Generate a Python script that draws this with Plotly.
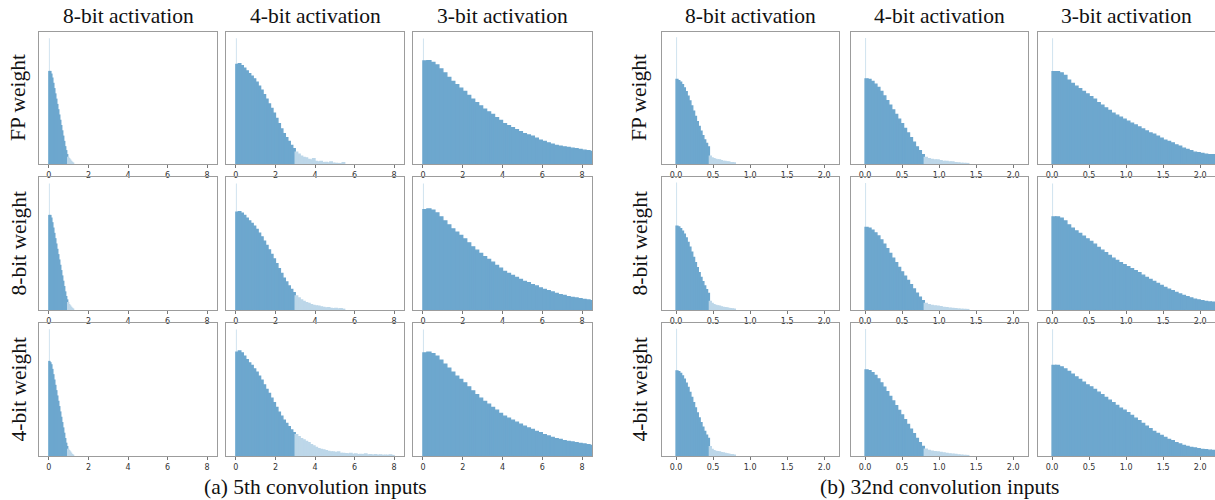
import plotly.graph_objects as go

# ---------------- data ----------------
weight_rows = ["FP weight", "8-bit weight", "4-bit weight"]
act_cols = ["8-bit activation", "4-bit activation", "3-bit activation"]
captions = ["(a) 5th convolution inputs", "(b) 32nd convolution inputs"]

conv5_tickvals = [0, 2, 4, 6, 8]
conv5_ticktext = ["0", "2", "4", "6", "8"]
conv32_tickvals = [0, 0.5, 1.0, 1.5, 2.0]
conv32_ticktext = ["0.0", "0.5", "1.0", "1.5", "2.0"]

# histogram bin widths (per activation column)
conv5_bin = [0.05, 0.125, 0.2]
conv32_bin = [0.025, 0.04, 0.05]

# height of the (very narrow) bin at exactly zero, fraction of axis height
conv5_zero_spike = [[0.952, 0.953, 0.950], [0.952, 0.952, 0.951], [0.953, 0.952, 0.951]]
conv32_zero_spike = [[0.960, 0.955, 0.952], [0.958, 0.955, 0.952], [0.957, 0.955, 0.953]]

# ---- 5th convolution inputs (normalised bin heights) ----
conv5_fp_a8 = [0.70, 0.70, 0.68, 0.65, 0.61, 0.57, 0.53, 0.49, 0.45, 0.41, 0.37, 0.33, 0.29,
               0.25, 0.21, 0.17, 0.13, 0.10, 0.07, 0.05, 0.04, 0.03, 0.02, 0.012, 0.006]
conv5_w8_a8 = [0.71, 0.71, 0.69, 0.655, 0.615, 0.575, 0.535, 0.495, 0.455, 0.415, 0.375, 0.335,
               0.295, 0.255, 0.215, 0.175, 0.135, 0.10, 0.075, 0.055, 0.04, 0.03, 0.02, 0.012, 0.006]
conv5_w4_a8 = [0.71, 0.70, 0.685, 0.65, 0.61, 0.57, 0.53, 0.49, 0.45, 0.41, 0.37, 0.33, 0.29,
               0.25, 0.21, 0.17, 0.13, 0.095, 0.07, 0.05, 0.04, 0.03, 0.02, 0.01, 0.005]

conv5_fp_a4 = [0.755, 0.76, 0.745, 0.725, 0.705, 0.685, 0.665, 0.645, 0.62, 0.59, 0.56, 0.525,
               0.49, 0.455, 0.42, 0.385, 0.345, 0.305, 0.265, 0.23, 0.20, 0.17, 0.14, 0.115,
               0.09, 0.075, 0.06, 0.05, 0.045, 0.035, 0.03, 0.04, 0.02, 0.015, 0.02, 0.01,
               0.012, 0.008, 0.015, 0.006, 0.004, 0.003, 0.002, 0.01]
conv5_w8_a4 = [0.735, 0.74, 0.728, 0.71, 0.69, 0.67, 0.65, 0.63, 0.605, 0.578, 0.55, 0.518,
               0.485, 0.452, 0.418, 0.384, 0.348, 0.31, 0.275, 0.24, 0.21, 0.18, 0.155, 0.13,
               0.105, 0.09, 0.075, 0.065, 0.055, 0.05, 0.04, 0.035, 0.03, 0.028, 0.022, 0.02,
               0.015, 0.018, 0.012, 0.01, 0.012, 0.008, 0.01, 0.005]
conv5_w4_a4 = [0.78, 0.79, 0.775, 0.75, 0.725, 0.70, 0.68, 0.655, 0.63, 0.60, 0.57, 0.535,
               0.50, 0.47, 0.435, 0.40, 0.365, 0.33, 0.30, 0.27, 0.245, 0.22, 0.195, 0.175,
               0.16, 0.145, 0.13, 0.12, 0.11, 0.10, 0.085, 0.075, 0.065, 0.055, 0.05, 0.045,
               0.04, 0.035, 0.03, 0.03, 0.025, 0.03, 0.02, 0.02, 0.018, 0.015, 0.02, 0.012,
               0.015, 0.01, 0.012, 0.01, 0.015, 0.008, 0.01, 0.006, 0.01, 0.005, 0.008, 0.004,
               0.006, 0.004, 0.008, 0.003]

conv5_fp_a3 = [0.78, 0.782, 0.77, 0.75, 0.72, 0.69, 0.655, 0.625, 0.60, 0.575, 0.55, 0.52,
               0.49, 0.465, 0.44, 0.415, 0.395, 0.375, 0.35, 0.33, 0.305, 0.29, 0.275, 0.26,
               0.245, 0.23, 0.22, 0.21, 0.195, 0.18, 0.17, 0.16, 0.15, 0.14, 0.135, 0.13,
               0.125, 0.12, 0.115, 0.11, 0.105, 0.10, 0.095]
conv5_w8_a3 = [0.755, 0.76, 0.75, 0.73, 0.70, 0.67, 0.64, 0.61, 0.585, 0.56, 0.535, 0.505,
               0.475, 0.45, 0.425, 0.40, 0.38, 0.36, 0.335, 0.315, 0.29, 0.275, 0.26, 0.245,
               0.23, 0.215, 0.205, 0.19, 0.18, 0.165, 0.155, 0.145, 0.135, 0.125, 0.115, 0.11,
               0.10, 0.095, 0.09, 0.085, 0.08, 0.075, 0.07]
conv5_w4_a3 = [0.775, 0.78, 0.77, 0.75, 0.72, 0.69, 0.66, 0.63, 0.60, 0.575, 0.55, 0.52,
               0.49, 0.46, 0.435, 0.41, 0.39, 0.365, 0.345, 0.32, 0.30, 0.285, 0.27, 0.255,
               0.24, 0.225, 0.21, 0.20, 0.185, 0.175, 0.16, 0.15, 0.14, 0.13, 0.125, 0.115,
               0.11, 0.105, 0.10, 0.095, 0.09, 0.085, 0.08]

# ---- 32nd convolution inputs ----
conv32_fp_a8 = [0.64, 0.632, 0.62, 0.60, 0.576, 0.547, 0.514, 0.477, 0.439, 0.40, 0.36, 0.321,
                0.284, 0.248, 0.214, 0.183, 0.155, 0.13, 0.06, 0.045, 0.04, 0.035, 0.03, 0.03,
                0.025, 0.02, 0.02, 0.015, 0.015, 0.01, 0.01, 0.008]
conv32_w8_a8 = [0.63, 0.624, 0.612, 0.593, 0.57, 0.541, 0.508, 0.472, 0.434, 0.395, 0.356, 0.318,
                0.281, 0.245, 0.212, 0.18, 0.152, 0.125, 0.065, 0.05, 0.04, 0.035, 0.03, 0.028,
                0.022, 0.02, 0.018, 0.015, 0.012, 0.01, 0.008, 0.006]
conv32_w4_a8 = [0.64, 0.633, 0.621, 0.601, 0.577, 0.548, 0.515, 0.478, 0.44, 0.401, 0.362, 0.323,
                0.286, 0.25, 0.216, 0.185, 0.157, 0.132, 0.07, 0.05, 0.04, 0.035, 0.032, 0.03,
                0.025, 0.022, 0.02, 0.016, 0.014, 0.01, 0.009, 0.006]

conv32_fp_a4 = [0.645, 0.64, 0.625, 0.605, 0.58, 0.55, 0.515, 0.48, 0.445, 0.41, 0.375, 0.34,
                0.305, 0.27, 0.235, 0.20, 0.165, 0.13, 0.10, 0.07, 0.05, 0.04, 0.035, 0.03,
                0.03, 0.025, 0.02, 0.02, 0.015, 0.015, 0.01, 0.008, 0.005, 0.004, 0.003]
conv32_w8_a4 = [0.62, 0.615, 0.60, 0.58, 0.556, 0.527, 0.494, 0.46, 0.425, 0.39, 0.355, 0.32,
                0.287, 0.254, 0.222, 0.19, 0.158, 0.126, 0.097, 0.07, 0.05, 0.04, 0.035, 0.03,
                0.028, 0.024, 0.02, 0.018, 0.014, 0.012, 0.01, 0.007, 0.005, 0.004, 0.003]
conv32_w4_a4 = [0.647, 0.642, 0.627, 0.606, 0.58, 0.55, 0.517, 0.483, 0.448, 0.413, 0.378, 0.343,
                0.308, 0.272, 0.237, 0.202, 0.167, 0.132, 0.10, 0.072, 0.052, 0.042, 0.036, 0.032,
                0.03, 0.026, 0.022, 0.02, 0.016, 0.014, 0.012, 0.008, 0.006, 0.004, 0.003]

conv32_fp_a3 = [0.70, 0.70, 0.69, 0.67, 0.635, 0.61, 0.59, 0.57, 0.55, 0.53, 0.51, 0.49,
                0.465, 0.445, 0.425, 0.405, 0.385, 0.37, 0.355, 0.34, 0.325, 0.31, 0.295, 0.28,
                0.265, 0.25, 0.235, 0.225, 0.21, 0.195, 0.18, 0.17, 0.16, 0.145, 0.135, 0.12,
                0.11, 0.10, 0.09, 0.085, 0.08, 0.075, 0.07, 0.07, 0.065]
conv32_w8_a3 = [0.70, 0.70, 0.69, 0.67, 0.64, 0.615, 0.595, 0.575, 0.555, 0.535, 0.515, 0.495,
                0.47, 0.45, 0.43, 0.41, 0.39, 0.372, 0.355, 0.34, 0.325, 0.31, 0.295, 0.28,
                0.262, 0.245, 0.23, 0.215, 0.20, 0.185, 0.17, 0.157, 0.145, 0.132, 0.12, 0.11,
                0.10, 0.09, 0.082, 0.076, 0.07, 0.065, 0.06, 0.058, 0.055]
conv32_w4_a3 = [0.68, 0.68, 0.67, 0.655, 0.635, 0.615, 0.595, 0.575, 0.555, 0.535, 0.52, 0.50,
                0.48, 0.46, 0.44, 0.42, 0.40, 0.38, 0.36, 0.345, 0.325, 0.305, 0.285, 0.265,
                0.245, 0.225, 0.205, 0.185, 0.17, 0.155, 0.14, 0.125, 0.115, 0.10, 0.09, 0.08,
                0.072, 0.065, 0.06, 0.055, 0.05, 0.047, 0.044, 0.042, 0.04]

conv5_data = [[conv5_fp_a8, conv5_fp_a4, conv5_fp_a3],
              [conv5_w8_a8, conv5_w8_a4, conv5_w8_a3],
              [conv5_w4_a8, conv5_w4_a4, conv5_w4_a3]]
conv32_data = [[conv32_fp_a8, conv32_fp_a4, conv32_fp_a3],
               [conv32_w8_a8, conv32_w8_a4, conv32_w8_a3],
               [conv32_w4_a8, conv32_w4_a4, conv32_w4_a3]]

# ---------------- style / layout ----------------
W, H = 1215, 500
BAR = "rgb(109,167,206)"
BAR_LIGHT = "rgb(189,215,233)"
SPIKE = "rgba(109,167,206,0.32)"
FRAME = "#9c9c9c"
SERIF = "Liberation Serif, Times New Roman, serif"
TXT = 21.5

groups = [
    dict(data=conv5_data, bins=conv5_bin, spikes=conv5_zero_spike,
         cols_px=[(39, 217), (226, 404), (413, 592)], xrange=[-0.5, 8.5],
         tickvals=conv5_tickvals, ticktext=conv5_ticktext, tail=[0.95, 3.0, 99],
         rowlabel_x=18, caption_x=315),
    dict(data=conv32_data, bins=conv32_bin, spikes=conv32_zero_spike,
         cols_px=[(662, 839), (851, 1028), (1038, 1215)], xrange=[-0.19, 2.2],
         tickvals=conv32_tickvals, ticktext=conv32_ticktext, tail=[0.45, 0.8, 99],
         rowlabel_x=639, caption_x=939),
]
rows_px = [(32, 164), (177, 310), (323, 456)]

fig = go.Figure()
layout = dict(width=W, height=H, margin=dict(l=0, r=0, t=0, b=0),
              paper_bgcolor="white", plot_bgcolor="white", showlegend=False,
              barmode="overlay", annotations=[])

k = 0
for g in groups:
    for r, (ytop, ybot) in enumerate(rows_px):
        for c, (xl, xr) in enumerate(g["cols_px"]):
            k += 1
            sfx = "" if k == 1 else str(k)
            vals = g["data"][r][c]
            bw = g["bins"][c]
            centers = [bw * (i + 0.5) for i in range(len(vals))]
            colors = [BAR if x < g["tail"][c] else BAR_LIGHT for x in centers]
            px_unit = (g["xrange"][1] - g["xrange"][0]) / (xr - xl)
            fig.add_trace(go.Bar(x=[px_unit / 2], y=[g["spikes"][r][c]], width=[px_unit],
                                 marker=dict(color=SPIKE, line=dict(width=0)),
                                 xaxis="x" + sfx, yaxis="y" + sfx, hoverinfo="skip"))
            fig.add_trace(go.Bar(x=centers, y=vals, width=bw,
                                 marker=dict(color=colors, line=dict(width=1.4, color=colors)),
                                 xaxis="x" + sfx, yaxis="y" + sfx))
            layout["xaxis" + sfx] = dict(
                domain=[xl / W, xr / W], range=g["xrange"], anchor="y" + sfx,
                showgrid=False, zeroline=False, showline=True, mirror=True,
                linecolor=FRAME, linewidth=1, ticks="outside", ticklen=3,
                tickcolor="#777", tickwidth=1,
                tickvals=g["tickvals"], ticktext=g["ticktext"],
                tickfont=dict(family="DejaVu Sans", size=8, color="#333"))
            layout["yaxis" + sfx] = dict(
                domain=[1 - ybot / H, 1 - ytop / H], range=[0, 1.0], anchor="x" + sfx,
                showgrid=False, zeroline=False, showline=True, mirror=True,
                linecolor=FRAME, linewidth=1, showticklabels=False, ticks="")
    # column titles
    for c, (xl, xr) in enumerate(g["cols_px"]):
        layout["annotations"].append(dict(
            text=act_cols[c], x=(xl + xr) / 2 / W, y=1 - 16 / H, xref="paper", yref="paper",
            xanchor="center", yanchor="middle", showarrow=False,
            font=dict(family=SERIF, size=TXT, color="#111")))
    # row labels
    for r, (ytop, ybot) in enumerate(rows_px):
        layout["annotations"].append(dict(
            text=weight_rows[r], x=g["rowlabel_x"] / W, y=1 - (ytop + ybot) / 2 / H,
            xref="paper", yref="paper", xanchor="center", yanchor="middle",
            textangle=-90, showarrow=False, font=dict(family=SERIF, size=TXT, color="#111")))

for i, cap in enumerate(captions):
    layout["annotations"].append(dict(
        text=cap, x=groups[i]["caption_x"] / W, y=1 - 487 / H, xref="paper", yref="paper",
        xanchor="center", yanchor="middle", showarrow=False,
        font=dict(family=SERIF, size=TXT, color="#111")))

fig.update_layout(**layout)
fig.write_html("out.html")
